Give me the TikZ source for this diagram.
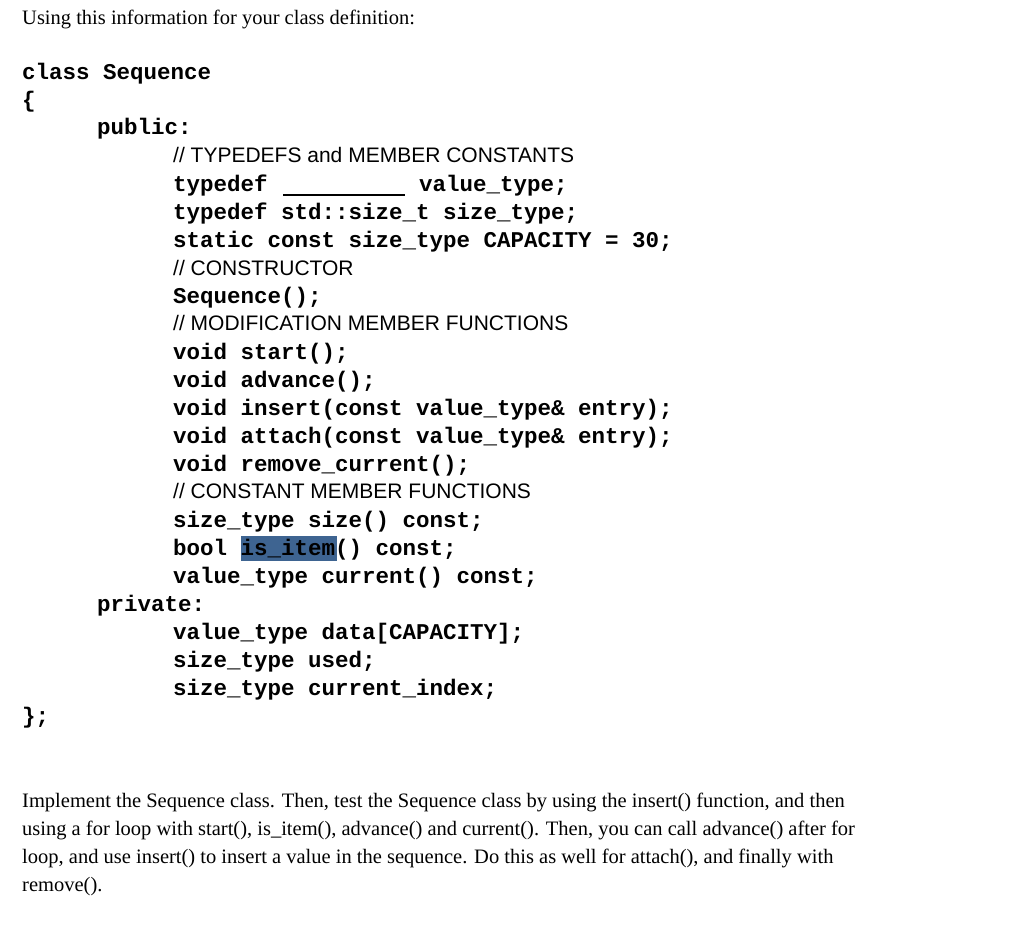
\documentclass[tikz,border=0pt]{standalone}
\usepackage{fontspec}
\setmainfont{Liberation Serif}
\newfontfamily\codef{Liberation Mono}
\newfontfamily\cmtf{Liberation Sans}
\definecolor{hl}{HTML}{3E6491}
\begin{document}
\begin{tikzpicture}[x=1pt,y=-1pt,
  txt/.style={anchor=base west,inner sep=0pt,font=\fontsize{20.5}{24}\selectfont},
  codeln/.style={anchor=base west,inner sep=0pt,font=\codef\bfseries\fontsize{22.5}{26}\selectfont},
  cmtln/.style={anchor=base west,inner sep=0pt,font=\cmtf\fontsize{21}{24}\selectfont}]
\fill[white] (0,0) rectangle (1024,924);
\useasboundingbox (0,0) rectangle (1024,924);
\node[txt] (t0) at (22,24) {Using this information for your class definition:};
\node[codeln] (c1) at (22,79) {class Sequence};
\node[codeln] (c2) at (22,107) {\{};
\node[codeln] (c3) at (97,134) {public:};
\node[cmtln] (m1) at (173,162) {// TYPEDEFS and MEMBER CONSTANTS};
\node[codeln] (c4) at (173,191) {typedef};
\draw[line width=1.3pt] (283,195) -- (405,195);
\node[codeln] (c5) at (419,191) {value\_type;};
\node[codeln] (c6) at (173,219) {typedef std::size\_t size\_type;};
\node[codeln] (c7) at (173,247) {static const size\_type CAPACITY = 30;};
\node[cmtln] (m2) at (173,275) {// CONSTRUCTOR};
\node[codeln] (c8) at (173,303) {Sequence();};
\node[cmtln] (m3) at (173,330) {// MODIFICATION MEMBER FUNCTIONS};
\node[codeln] (c9) at (173,359) {void start();};
\node[codeln] (c10) at (173,387) {void advance();};
\node[codeln] (c11) at (173,415) {void insert(const value\_type\& entry);};
\node[codeln] (c12) at (173,443) {void attach(const value\_type\& entry);};
\node[codeln] (c13) at (173,471) {void remove\_current();};
\node[cmtln] (m4) at (173,498) {// CONSTANT MEMBER FUNCTIONS};
\node[codeln] (c14) at (173,527) {size\_type size() const;};
\fill[hl] (241,536) rectangle (337,561);
\node[codeln] (c15) at (173,555) {bool is\_item() const;};
\node[codeln] (c16) at (173,583) {value\_type current() const;};
\node[codeln] (c17) at (97,611) {private:};
\node[codeln] (c18) at (173,639) {value\_type data[CAPACITY];};
\node[codeln] (c19) at (173,667) {size\_type used;};
\node[codeln] (c20) at (173,695) {size\_type current\_index;};
\node[codeln] (c21) at (22,723) {\};};
\node[txt] (p1) at (22,807) {Implement the Sequence class. Then, test the Sequence class by using the insert() function, and then};
\node[txt] (p2) at (22,835) {using a for loop with start(), is\_item(), advance() and current(). Then, you can call advance() after for};
\node[txt] (p3) at (22,863) {loop, and use insert() to insert a value in the sequence. Do this as well for attach(), and finally with};
\node[txt] (p4) at (22,891) {remove().};
\end{tikzpicture}
\end{document}
